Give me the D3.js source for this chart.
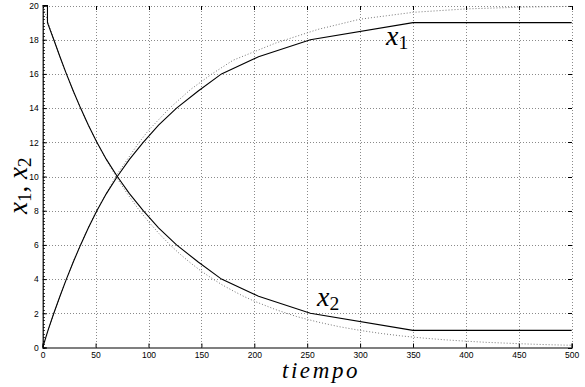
<!DOCTYPE html>
<html>
<head>
<meta charset="utf-8">
<script src="https://cdn.jsdelivr.net/npm/d3@7"></script>
<style>
  body { margin: 0; background: #fff; }
  svg { display: block; }
  .tick text { font-family: "Liberation Sans", Arial, sans-serif; font-size: 8.5px; fill: #000; }
</style>
</head>
<body>
<svg id="chart" width="585" height="387"></svg>
<script>
// solid curves (simulated)
var tSolid = [0, 5, 10.5, 16.3, 22.4, 28.9, 35.8, 43.2, 51.2, 60.2, 70.5, 82, 95, 109.5, 126.5, 147, 169, 204, 253, 350, 500];
var x1Solid = [0, 1, 2, 3, 4, 5, 6, 7, 8, 9, 10, 11, 12, 13, 14, 15, 16, 17, 18, 19, 19];
var tSolid2 = [0, 4.5, 4.5, 10.5, 16.3, 22.4, 28.9, 35.8, 43.2, 51.2, 60.2, 70.5, 82, 95, 109.5, 126.5, 147, 169, 204, 253, 350, 500];
var x2Solid = [20, 20, 19, 18, 17, 16, 15, 14, 13, 12, 11, 10, 9, 8, 7, 6, 5, 4, 3, 2, 1, 1];

// dotted curves (exact)
var tDot1 = [0, 10, 20, 30, 40, 50, 60, 70, 80, 90, 100, 120, 140, 160, 180, 200, 220, 240, 260, 280, 300, 325, 350, 375, 400, 450, 500];
var x1Dot = [0, 1.9, 3.6, 5.2, 6.6, 7.9, 9.0, 10.1, 11.0, 11.9, 12.7, 14.0, 15.1, 16.0, 16.8, 17.3, 17.8, 18.2, 18.6, 18.9, 19.2, 19.4, 19.6, 19.7, 19.8, 19.9, 19.95];
var tDot2 = [0, 10, 20, 30, 40, 50, 60, 70, 80, 90, 100, 110, 120, 130, 140, 150, 160, 170, 180, 190, 200, 220, 240, 260, 280, 300, 320, 340, 360, 380, 400, 420, 440, 460, 480, 500];
var x2Dot = [20, 18.1, 16.37, 14.82, 13.41, 12.13, 10.98, 9.93, 8.99, 8.13, 7.36, 6.66, 6.02, 5.45, 4.93, 4.46, 4.04, 3.65, 3.31, 2.99, 2.71, 2.22, 1.81, 1.49, 1.22, 1.0, 0.82, 0.67, 0.55, 0.45, 0.37, 0.3, 0.25, 0.2, 0.16, 0.13];

var xTicks = [0, 50, 100, 150, 200, 250, 300, 350, 400, 450, 500];
var yTicks = [0, 2, 4, 6, 8, 10, 12, 14, 16, 18, 20];

var svg = d3.select('#chart');
var x = d3.scaleLinear().domain([0, 500]).range([42.7, 571.7]);
var y = d3.scaleLinear().domain([0, 20]).range([347.5, 5.5]);

// grid
var grid = svg.append('g')
    .attr('stroke', '#8a8a8a')
    .attr('stroke-width', 1)
    .attr('stroke-dasharray', '1,2')
    .attr('shape-rendering', 'crispEdges');
grid.selectAll('.gx').data(xTicks.slice(1)).enter().append('line')
    .attr('x1', (d) => Math.round(x(d)) + 0.5).attr('x2', (d) => Math.round(x(d)) + 0.5)
    .attr('y1', y(0)).attr('y2', y(20));
grid.selectAll('.gy').data(yTicks.slice(1)).enter().append('line')
    .attr('x1', x(0)).attr('x2', x(500))
    .attr('y1', (d) => Math.round(y(d)) + 0.5).attr('y2', (d) => Math.round(y(d)) + 0.5);

// top / right inner ticks
var box = svg.append('g').attr('stroke', '#000').attr('shape-rendering', 'crispEdges');
box.selectAll('.tt').data(xTicks).enter().append('line')
    .attr('x1', (d) => Math.round(x(d)) + 0.5).attr('x2', (d) => Math.round(x(d)) + 0.5)
    .attr('y1', y(20)).attr('y2', y(20) + 4);
box.selectAll('.tr').data(yTicks).enter().append('line')
    .attr('x1', x(500)).attr('x2', x(500) - 4)
    .attr('y1', (d) => Math.round(y(d)) + 0.5).attr('y2', (d) => Math.round(y(d)) + 0.5);

// left minor ticks (dense band)
svg.append('g').attr('stroke', '#444').attr('shape-rendering', 'crispEdges')
    .selectAll('line').data(d3.range(0, 100.5, 1)).enter().append('line')
    .attr('x1', x(0)).attr('x2', x(0) + 2.5)
    .attr('y1', (d) => Math.round(y(d / 5)) + 0.5).attr('y2', (d) => Math.round(y(d / 5)) + 0.5);

// axes
var xAxis = d3.axisBottom(x).tickValues(xTicks).tickSize(-4).tickPadding(4).tickFormat(d3.format('d'));
var yAxis = d3.axisLeft(y).tickValues(yTicks).tickSize(-4).tickPadding(4).tickFormat(d3.format('d'));
var gx = svg.append('g').attr('transform', 'translate(0,' + y(0) + ')').call(xAxis);
var gy = svg.append('g').attr('transform', 'translate(' + x(0) + ',0)').call(yAxis);
[gx, gy].forEach(function(g) {
    g.select('.domain').attr('stroke', '#000').attr('stroke-width', 1.2);
    g.selectAll('.tick line').attr('stroke', '#000');
});

// curves
var line = d3.line().x((d) => x(d[0])).y((d) => y(d[1]));
function pairs(ts, vs) { return ts.map((t, i) => [t, vs[i]]); }

svg.append('path').datum(pairs(tDot1, x1Dot)).attr('d', line)
    .attr('fill', 'none').attr('stroke', '#777').attr('stroke-width', 1).attr('stroke-dasharray', '1,2');
svg.append('path').datum(pairs(tDot2, x2Dot)).attr('d', line)
    .attr('fill', 'none').attr('stroke', '#777').attr('stroke-width', 1).attr('stroke-dasharray', '1,2');
svg.append('path').datum(pairs(tSolid, x1Solid)).attr('d', line)
    .attr('fill', 'none').attr('stroke', '#000').attr('stroke-width', 1.1);
svg.append('path').datum(pairs(tSolid2, x2Solid)).attr('d', line)
    .attr('fill', 'none').attr('stroke', '#000').attr('stroke-width', 1.1);

// labels
var serif = '"Liberation Serif", "Times New Roman", serif';
svg.append('text').attr('x', 321).attr('y', 378).attr('text-anchor', 'middle')
    .attr('font-family', serif).attr('font-style', 'italic').attr('font-size', 23)
    .attr('letter-spacing', 2.6).text('tiempo');

function mathLabel(g, name, sub, size) {
    var t = g.append('text').attr('font-family', serif).attr('font-size', size).attr('fill', '#000');
    t.append('tspan').attr('font-style', 'italic').text(name);
    t.append('tspan').attr('dy', size * 0.15).attr('font-size', size * 0.7).text(sub);
    return t;
}

var a1 = svg.append('g').attr('transform', 'translate(386,45)');
mathLabel(a1, 'x', '1', 28);
var a2 = svg.append('g').attr('transform', 'translate(317,306)');
mathLabel(a2, 'x', '2', 28);

var yl = svg.append('g').attr('transform', 'translate(27,214) rotate(-90)');
var ylt = yl.append('text').attr('font-family', serif).attr('font-size', 27).attr('fill', '#000');
ylt.append('tspan').attr('font-style', 'italic').text('x');
ylt.append('tspan').attr('dy', 4).attr('font-size', 19).text('1');
ylt.append('tspan').attr('dy', -4).text(', ');
ylt.append('tspan').attr('font-style', 'italic').text('x');
ylt.append('tspan').attr('dy', 4).attr('font-size', 19).text('2');
</script>
</body>
</html>
